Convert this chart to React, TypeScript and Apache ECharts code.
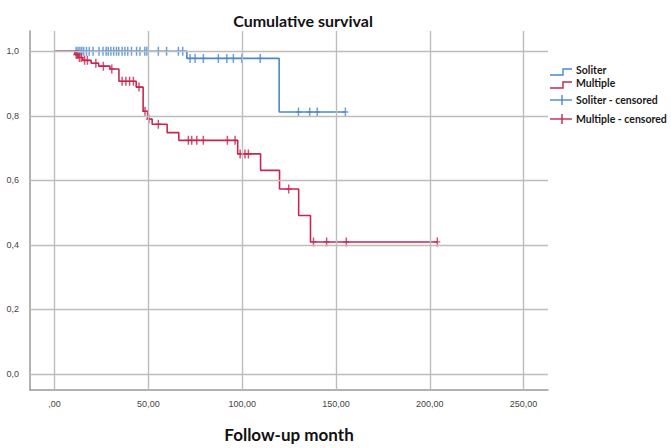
import React, { useEffect, useRef } from "react";
import * as echarts from "echarts";

// Kaplan–Meier estimates: event times (months) and survival right after each event
const soliterEventTimes = [70.5, 119.7];
const soliterSurvival = [0.978, 0.812];
const soliterCensorTimes = [
  11.5, 12.5, 13.5, 14.5, 15.5, 17, 18.5, 20.5, 23.7, 25.8, 27.5, 28.6, 30, 31.5, 33, 34.2,
  36, 37.5, 39, 41, 43.7, 45.5, 48.1, 49.2, 55.3, 59.7, 66, 68.3,
  72.2, 74.9, 79.3, 87.3, 91.8, 95.3, 99.8, 109.6,
  130, 136, 140, 155,
];

const multipleEventTimes = [
  10.8, 12.6, 15.0, 19.5, 23.5, 29.5, 34.3, 43.5, 47.2, 49.6, 52.0, 60.0, 66.2, 97.6, 109.8,
  119.9, 130.1, 136.4,
];
const multipleSurvival = [
  0.99, 0.981, 0.972, 0.963, 0.954, 0.945, 0.907, 0.889, 0.814, 0.79, 0.774, 0.748, 0.724,
  0.682, 0.631, 0.573, 0.491, 0.409,
];
const multipleCensorTimes = [
  11.5, 12.2, 13.2, 14.2, 16, 17.5, 22, 26, 30.5, 36, 38, 40, 42, 45, 48.2, 50.3, 55.3,
  71.3, 73.1, 75.8, 79.3, 92.1, 96.2, 98.9, 101.5, 103.3, 124.8, 138, 145, 155.5, 204,
];

const xTicks = [0, 50, 100, 150, 200, 250];
const yTicks = [0, 0.2, 0.4, 0.6, 0.8, 1.0];

const BLUE = "#4a88cf";
const RED = "#c8264f";
const GRID = "#bdbdbd";
const AXIS = "#999999";

function survivalAt(times: number[], surv: number[], t: number): number {
  let s = 1;
  for (let i = 0; i < times.length; i++) if (times[i] <= t) s = surv[i];
  return s;
}

function curve(times: number[], surv: number[], end: number): number[][] {
  const pts: number[][] = [[0, 1]];
  times.forEach((t, i) => pts.push([t, surv[i]]));
  pts.push([end, surv[surv.length - 1]]);
  return pts;
}

function censorPoints(times: number[], surv: number[], cens: number[]): number[][] {
  return cens.map((t) => [t, survivalAt(times, surv, t)]);
}

const PLUS = "path://M3,0H5V3.4H8V4.6H5V8H3V4.6H0V3.4H3Z";

export default function App() {
  const ref = useRef<HTMLDivElement>(null);

  useEffect(() => {
    if (!ref.current) return;
    const chart = echarts.init(ref.current, undefined, { renderer: "svg" });

    const soliterEnd = Math.max(...soliterCensorTimes);
    const multipleEnd = Math.max(...multipleCensorTimes);

    const legendRows = [
      { y: 70, text: "Soliter", color: BLUE, kind: "step" },
      { y: 83, text: "Multiple", color: RED, kind: "step" },
      { y: 100, text: "Soliter - censored", color: BLUE, kind: "cross" },
      { y: 119, text: "Multiple - censored", color: RED, kind: "cross" },
    ];

    const legendGraphics: any[] = [];
    legendRows.forEach((r) => {
      if (r.kind === "step") {
        legendGraphics.push({
          type: "polyline",
          shape: { points: [[550, r.y + 5], [563, r.y + 5], [563, r.y - 1], [572, r.y - 1]] },
          style: { stroke: r.color, lineWidth: 1.4, fill: null },
        });
      } else {
        legendGraphics.push({
          type: "line",
          shape: { x1: 550, y1: r.y, x2: 572, y2: r.y },
          style: { stroke: r.color, lineWidth: 1.4 },
        });
        legendGraphics.push({
          type: "line",
          shape: { x1: 562, y1: r.y - 5, x2: 562, y2: r.y + 5 },
          style: { stroke: r.color, lineWidth: 1.4 },
        });
      }
      legendGraphics.push({
        type: "text",
        x: 576,
        y: r.y,
        style: {
          text: r.text,
          fill: "#1a1a1a",
          font: "bold 10.5px Lato",
          textVerticalAlign: "middle",
        },
      });
    });

    chart.setOption({
      animation: false,
      backgroundColor: "#ffffff",
      title: {
        text: "Cumulative survival",
        left: 298,
        top: 7,
        textAlign: "center",
        textStyle: { fontFamily: "Lato", fontWeight: "bold", fontSize: 16, color: "#111" },
      },
      grid: { left: 30, right: 123, top: 31, bottom: 50 },
      xAxis: {
        type: "value",
        min: -13.1,
        max: 263,
        name: "Follow-up month",
        nameLocation: "middle",
        nameGap: 36,
        nameTextStyle: { fontFamily: "Lato", fontWeight: "bold", fontSize: 17, color: "#111" },
        axisLine: { show: true, onZero: false, lineStyle: { color: AXIS, width: 1.5 } },
        axisTick: { show: false },
        splitLine: { show: false },
        axisLabel: {
          customValues: xTicks,
          margin: 9,
          fontFamily: "Liberation Sans",
          fontSize: 9,
          color: "#444",
          formatter: (v: number) => (v === 0 ? ",00" : v.toFixed(2).replace(".", ",")),
        },
      },
      yAxis: {
        type: "value",
        min: -0.05,
        max: 1.063,
        axisLine: { show: true, onZero: false, lineStyle: { color: AXIS, width: 1.5 } },
        axisTick: { show: false },
        splitLine: { show: false },
        axisLabel: {
          customValues: yTicks,
          margin: 11,
          fontFamily: "Liberation Sans",
          fontSize: 9,
          color: "#444",
          formatter: (v: number) => v.toFixed(1).replace(".", ","),
        },
      },
      series: [
        {
          name: "gridlines",
          type: "line",
          z: 1,
          data: [[0, 1]],
          showSymbol: false,
          lineStyle: { opacity: 0 },
          silent: true,
          markLine: {
            silent: true,
            symbol: ["none", "none"],
            label: { show: false },
            lineStyle: { color: GRID, width: 1.4, type: "solid" },
            data: [
              ...xTicks.map((v) => ({ xAxis: v })),
              ...yTicks.map((v) => ({ yAxis: v })),
            ],
          },
        },
        {
          name: "Soliter",
          type: "line",
          z: 3,
          step: "end",
          showSymbol: false,
          lineStyle: { color: BLUE, width: 1.6 },
          data: curve(soliterEventTimes, soliterSurvival, soliterEnd),
        },
        {
          name: "Multiple",
          type: "line",
          z: 3,
          step: "end",
          showSymbol: false,
          lineStyle: { color: RED, width: 1.6 },
          data: curve(multipleEventTimes, multipleSurvival, multipleEnd),
        },
        {
          name: "Soliter - censored",
          type: "scatter",
          z: 4,
          symbol: PLUS,
          symbolSize: [6, 9],
          itemStyle: { color: BLUE },
          data: censorPoints(soliterEventTimes, soliterSurvival, soliterCensorTimes),
        },
        {
          name: "Multiple - censored",
          type: "scatter",
          z: 4,
          symbol: PLUS,
          symbolSize: [6, 9],
          itemStyle: { color: RED },
          data: censorPoints(multipleEventTimes, multipleSurvival, multipleCensorTimes),
        },
      ],
      graphic: legendGraphics,
    });

    return () => chart.dispose();
  }, []);

  return (
    <div
      ref={ref}
      style={{ position: "fixed", left: 0, top: 0, width: 671, height: 448, background: "#fff" }}
    />
  );
}
